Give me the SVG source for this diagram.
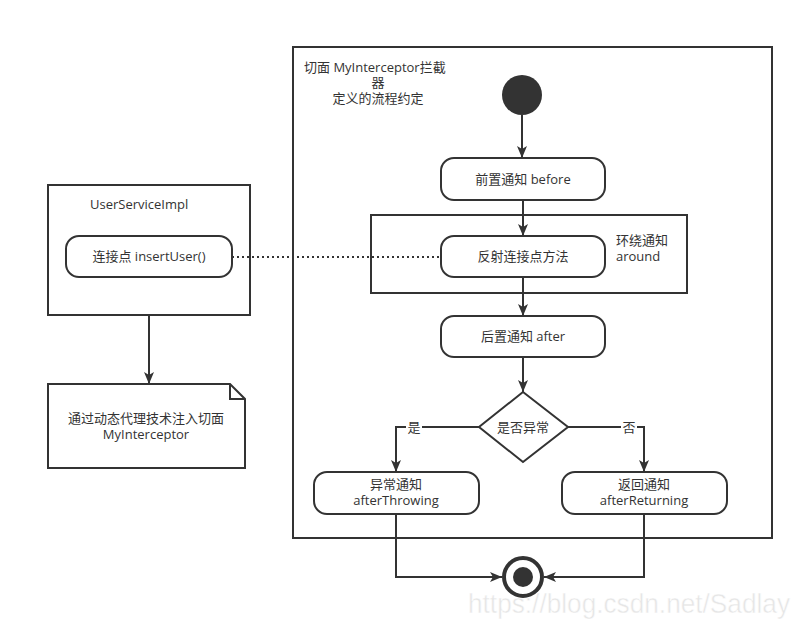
<svg xmlns="http://www.w3.org/2000/svg" width="804" height="628" viewBox="0 0 804 628">
<defs>
<style>
.box{fill:#fff;stroke:#333;stroke-width:2}
.rr{fill:#fff;stroke:#333;stroke-width:2}
.ln{fill:none;stroke:#333;stroke-width:2}
.t{font-family:"Open Sans","Noto Sans CJK SC","Liberation Sans",sans-serif;font-size:13px;fill:#333}
.c{text-anchor:middle}
</style>
<marker id="ah" viewBox="0 0 12 10" refX="12" refY="5" markerWidth="12" markerHeight="10" orient="auto" markerUnits="userSpaceOnUse">
<path d="M0,0 L12,5 L0,10 L3,5 Z" fill="#333"/>
</marker>
</defs>
<rect width="804" height="628" fill="#fff"/>

<g id="aspect">
<rect class="box" x="293" y="47" width="479" height="491"/>
<text class="t"><tspan x="304" y="72">切面 MyInterceptor拦截</tspan><tspan class="c" x="378" y="87">器</tspan><tspan class="c" x="378" y="103">定义的流程约定</tspan></text>
</g>

<g id="around">
<rect class="box" x="371" y="215" width="316" height="78"/>
<text class="t"><tspan x="616" y="245">环绕通知</tspan><tspan x="616" y="261">around</tspan></text>
</g>

<g id="userService">
<rect class="box" x="48" y="185" width="202" height="130"/>
<text class="t" x="90" y="209">UserServiceImpl</text>
</g>

<g id="start"><circle cx="522" cy="95" r="20" fill="#333"/></g>

<g id="before">
<rect class="rr" x="441" y="158" width="164" height="42" rx="13"/>
<text class="t c" x="523" y="184">前置通知 before</text>
</g>

<g id="reflect">
<rect class="rr" x="441" y="236" width="164" height="41" rx="13"/>
<text class="t c" x="523" y="261">反射连接点方法</text>
</g>

<g id="after">
<rect class="rr" x="441" y="316" width="164" height="41" rx="13"/>
<text class="t c" x="523" y="341">后置通知 after</text>
</g>

<g id="decision">
<polygon class="box" points="523,392 568,427 523,462 479,427"/>
<text class="t c" x="523" y="432">是否异常</text>
</g>

<g id="throwing">
<rect class="rr" x="314" y="472" width="165" height="42" rx="13"/>
<text class="t c"><tspan x="396" y="489">异常通知</tspan><tspan x="396" y="505">afterThrowing</tspan></text>
</g>

<g id="returning">
<rect class="rr" x="562" y="472" width="165" height="42" rx="13"/>
<text class="t c"><tspan x="644" y="489">返回通知</tspan><tspan x="644" y="505">afterReturning</tspan></text>
</g>

<g id="end">
<circle cx="523" cy="577" r="19" fill="#fff" stroke="#333" stroke-width="4"/>
<circle cx="523" cy="577" r="10" fill="#333"/>
</g>

<g id="joinpoint">
<rect class="rr" x="66" y="236" width="166" height="41" rx="13"/>
<text class="t c" x="149" y="261">连接点 insertUser()</text>
</g>

<g id="note">
<path class="box" d="M48,384 H230 L245,399 V468 H48 Z"/>
<path class="ln" d="M230,384 V399 H245"/>
<text class="t c"><tspan x="146" y="423">通过动态代理技术注入切面</tspan><tspan x="146" y="439">MyInterceptor</tspan></text>
</g>

<g id="connectors">
<path class="ln" d="M522,115 V158" marker-end="url(#ah)"/>
<path class="ln" d="M523,200 V236" marker-end="url(#ah)"/>
<path class="ln" d="M523,277 V316" marker-end="url(#ah)"/>
<path class="ln" d="M523,357 V392" marker-end="url(#ah)"/>
<path class="ln" d="M479,427 H396 V472" marker-end="url(#ah)"/>
<path class="ln" d="M568,427 H644 V472" marker-end="url(#ah)"/>
<path class="ln" d="M396,514 V577 H502" marker-end="url(#ah)"/>
<path class="ln" d="M644,514 V577 H544" marker-end="url(#ah)"/>
<path class="ln" d="M149,315 V384" marker-end="url(#ah)"/>
<path d="M232,257 H441" fill="none" stroke="#333" stroke-width="2" stroke-dasharray="2,3"/>
<rect x="406" y="420" width="16" height="15" fill="#fff"/>
<text class="t c" x="414" y="432">是</text>
<rect x="621" y="420" width="16" height="15" fill="#fff"/>
<text class="t c" x="629" y="432">否</text>
</g>

<text x="468" y="613" textLength="322" lengthAdjust="spacingAndGlyphs" style="font-family:'Liberation Sans',sans-serif;font-size:27px;fill:#e6e6e6;stroke:#fff;stroke-width:0.5">https://blog.csdn.net/Sadlay</text>
</svg>
